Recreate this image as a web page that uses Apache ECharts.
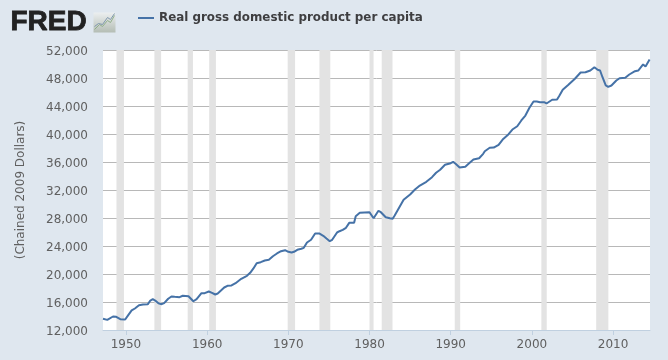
<!DOCTYPE html>
<html>
<head>
<meta charset="utf-8" />
<title>Real gross domestic product per capita</title>
<script src="https://cdn.jsdelivr.net/npm/echarts@6/dist/echarts.min.js"></script>
<style>
  html, body { margin: 0; padding: 0; background: #dfe7ef; }
  #chart { width: 668px; height: 360px; }
</style>
</head>
<body>
<div id="chart"></div>
<script>
const seriesName = "Real gross domestic product per capita";
const yAxisName = "(Chained 2009 Dollars)";

const years = [
  1947.17, 1947.7, 1948.4, 1948.8, 1949.3, 1949.9, 1950.3, 1950.7, 1951.1, 1951.6, 1952.1, 1952.7,
  1953, 1953.3, 1953.6, 1954, 1954.4, 1954.7, 1955.2, 1955.6, 1956, 1956.6, 1957, 1957.7,
  1958.3, 1958.7, 1959.3, 1959.7, 1960.2, 1960.6, 1961, 1961.3, 1962.1, 1962.5, 1963, 1963.5,
  1964.2, 1964.9, 1965.3, 1965.7, 1966.1, 1966.6, 1967.1, 1967.6, 1968.1, 1968.6, 1969.1, 1969.6,
  1970, 1970.4, 1970.7, 1970.85, 1971.1, 1971.6, 1971.9, 1972.3, 1972.8, 1973.3, 1973.5, 1973.8,
  1974.3, 1974.7, 1975.1, 1975.4, 1976, 1976.3, 1976.7, 1977.1, 1977.5, 1978.1, 1978.3, 1978.8,
  1979.4, 1980, 1980.5, 1980.8, 1981.1, 1981.4, 1981.5, 1982, 1982.5, 1982.85, 1983.1, 1984.2,
  1985, 1985.6, 1986.2, 1987, 1987.7, 1988.2, 1988.7, 1989.3, 1990, 1990.3, 1990.6, 1991.1,
  1991.8, 1992.2, 1992.8, 1993.5, 1994, 1994.2, 1994.8, 1995.3, 1995.9, 1996.4, 1997.1, 1997.6,
  1998.2, 1998.7, 1999.2, 1999.7, 2000.2, 2000.6, 2001, 2001.5, 2001.8, 2002.5, 2003.1, 2003.4,
  2003.8, 2004.5, 2005.3, 2006, 2006.6, 2007.2, 2007.7, 2008.1, 2008.4, 2008.7, 2009.1, 2009.4,
  2009.8, 2010.4, 2010.8, 2011, 2011.5, 2012, 2012.7, 2013.1, 2013.7, 2014, 2014.5
];
const gdpPerCapita = [
  13600, 13450, 13930, 13880, 13550, 13500, 14170, 14790, 15070, 15540, 15640, 15690,
  16210, 16400, 16210, 15830, 15690, 15830, 16460, 16790, 16740, 16690, 16890, 16830,
  16110, 16400, 17260, 17260, 17500, 17310, 17070, 17210, 18070, 18310, 18360, 18690,
  19310, 19740, 20170, 20790, 21540, 21690, 21930, 22030, 22540, 22930, 23260, 23400,
  23170, 23070, 23170, 22930, 23460, 23600, 23740, 24500, 24890, 25790, 25740, 25790,
  25460, 25070, 24690, 24890, 25930, 26110, 26310, 26600, 27310, 27310, 28260, 28740,
  28790, 28830, 27970, 28500, 29030, 28830, 28970, 28110, 27970, 27890, 28360, 30600,
  31360, 32070, 32640, 33170, 33830, 34460, 34890, 35600, 35830, 36030, 35740, 35210,
  35310, 35740, 36360, 36540, 37170, 37540, 38030, 38070, 38460, 39210, 39930, 40640,
  41110, 41930, 42640, 43740, 44640, 44640, 44540, 44540, 44360, 44890, 44930, 45500,
  46310, 47030, 47890, 48790, 48830, 49070, 49540, 49170, 49070, 48110, 46930, 46740,
  46930, 47640, 47970, 47740, 48030, 48500, 48970, 49070, 49930, 49640, 50640
];
const recessionStarts = [1948.83, 1953.5, 1957.6, 1960.25, 1969.92, 1973.83, 1980.0, 1981.5, 1990.5, 2001.17, 2007.92];
const recessionEnds = [1949.75, 1954.33, 1958.25, 1961.08, 1970.83, 1975.17, 1980.5, 1982.83, 1991.17, 2001.83, 2009.42];
const decadeTicks = [1950, 1960, 1970, 1980, 1990, 2000, 2010];

const chart = echarts.init(document.getElementById("chart"));

const option = {
  animation: false,
  backgroundColor: "#dfe7ef",
  textStyle: { fontFamily: "DejaVu Sans" },
  legend: {
    left: 138,
    top: 12,
    padding: 0,
    itemWidth: 16,
    itemHeight: 2,
    itemGap: 5,
    selectedMode: false,
    textStyle: { color: "#3e3e40", fontSize: 11.9, fontWeight: "bold", fontFamily: "DejaVu Sans" },
    data: [{ name: seriesName, icon: "rect" }]
  },
  grid: {
    left: 103,
    right: 18,
    top: 50,
    bottom: 30,
    show: true,
    backgroundColor: "#fff",
    borderWidth: 0
  },
  xAxis: {
    type: "value",
    min: 1947.17,
    max: 2014.55,
    splitLine: { show: false },
    axisLine: { show: true, onZero: false, lineStyle: { color: "#c0d0e0", width: 1 } },
    axisTick: { show: true, length: 5, customValues: decadeTicks, lineStyle: { color: "#c0d0e0" } },
    axisLabel: {
      customValues: decadeTicks,
      color: "#606060",
      fontSize: 12,
      margin: 9,
      formatter: (v) => String(v)
    }
  },
  yAxis: {
    type: "value",
    name: yAxisName,
    nameLocation: "middle",
    nameGap: 76,
    nameTextStyle: { color: "#606060", fontSize: 12 },
    min: 12000,
    max: 52000,
    interval: 4000,
    axisLine: { show: false },
    axisTick: { show: false },
    splitLine: { lineStyle: { color: "#b8b8b8", width: 1 } },
    axisLabel: {
      color: "#606060",
      fontSize: 12,
      margin: 15,
      verticalAlign: "top",
      verticalAlignMinLabel: "top",
      verticalAlignMaxLabel: "top",
      lineHeight: 4,
      formatter: (v) => v.toLocaleString("en-US")
    }
  },
  series: [
    {
      name: seriesName,
      type: "line",
      symbol: "none",
      smooth: false,
      lineStyle: { color: "#4572a7", width: 2 },
      itemStyle: { color: "#4572a7" },
      data: years.map((y, i) => [y, gdpPerCapita[i]]),
      markArea: {
        silent: true,
        itemStyle: { color: "#e3e3e3" },
        data: recessionStarts.map((s, i) => [{ xAxis: s }, { xAxis: recessionEnds[i] }])
      }
    }
  ],
  graphic: [
    {
      type: "text",
      left: 10,
      top: 8,
      style: {
        text: "FRED",
        fill: "#222",
        stroke: "#222",
        lineWidth: 0.8,
        font: "bold 28px 'Liberation Sans'"
      }
    },
    {
      // little logo picture
      type: "group",
      left: 92,
      top: 11,
      children: [
        {
          type: "rect",
          shape: { x: 0, y: 0, width: 22, height: 20 },
          style: {
            fill: {
              type: "linear", x: 0, y: 0, x2: 0, y2: 1,
              colorStops: [{ offset: 0, color: "#eceff0" }, { offset: 1, color: "#b4bdb4" }]
            }
          }
        },
        {
          type: "polyline",
          shape: { points: [[1, 17], [6, 12], [9, 14], [14, 8], [17, 10], [21, 3]] },
          style: { stroke: "#8fae8a", lineWidth: 1, fill: null }
        },
        {
          type: "polyline",
          shape: { points: [[1, 14], [5, 11], [9, 12], [14, 5], [17, 7], [21, 1]] },
          style: { stroke: "#7f97ad", lineWidth: 1, fill: null }
        }
      ]
    }
  ]
};

chart.setOption(option);
</script>
</body>
</html>
